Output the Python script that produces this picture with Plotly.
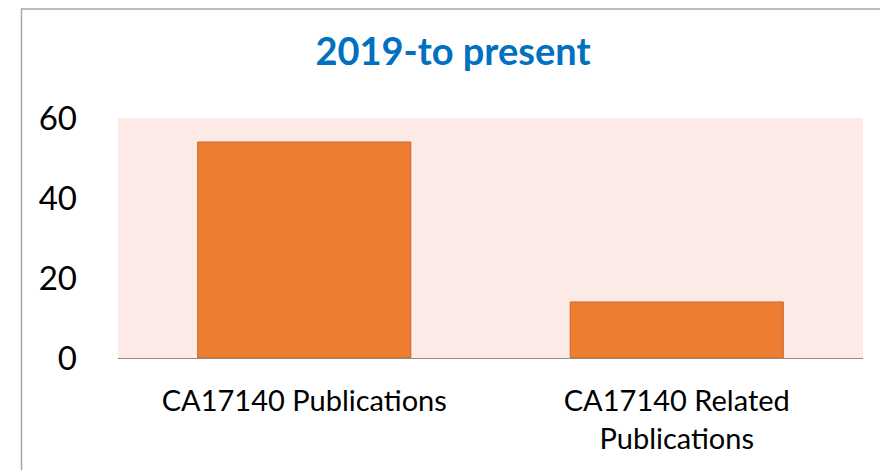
import plotly.graph_objects as go

categories = ["CA17140 Publications", "CA17140 Related Publications"]
tick_labels = ["CA17140 Publications", "CA17140 Related<br>Publications"]
values = [54, 14]
y_ticks = [0, 20, 40, 60]

# page body has an 8px margin; work in reference pixel coords minus that offset
OFF = 8
W, H = 888 - OFF, 470 - OFF
L, T = 118 - OFF, 118 - OFF
R = W - (863 - OFF)
B = H - (358 - OFF)
pw, ph = W - L - R, H - T - B

def px_to_paper_x(px):
    return (px - OFF - L) / pw

def px_to_paper_y(py):
    return (H - B - (py - OFF)) / ph

fig = go.Figure()
fig.add_trace(go.Bar(
    x=categories, y=values,
    marker=dict(color="#ED7D31", line=dict(color="#C9652A", width=1)),
    hoverinfo="x+y",
))

fig.update_layout(
    width=W, height=H,
    margin=dict(l=L, r=R, t=T, b=B, pad=0),
    paper_bgcolor="white",
    plot_bgcolor="#FBEAE5",
    bargap=0.428,
    showlegend=False,
    font=dict(family="Lato, 'Open Sans', sans-serif", color="black"),
    title=dict(
        text="<b>2019-to present</b>",
        font=dict(size=38, color="#0070C0", family="Lato, sans-serif"),
        x=(453 - OFF) / W, xanchor="center", xref="container",
        y=1 - (52 - OFF) / H, yanchor="middle", yref="container",
    ),
    xaxis=dict(
        tickmode="array", tickvals=categories, ticktext=tick_labels,
        tickfont=dict(size=29, color="black"),
        showline=True, linecolor="#8C8C8C", linewidth=1,
        showgrid=False, ticks="",
        ticklabelstandoff=17,
    ),
    yaxis=dict(
        range=[0, 60], tickvals=y_ticks,
        tickfont=dict(size=33, color="black"),
        showgrid=False, zeroline=False, showline=False, ticks="",
        ticklabelstandoff=40,
    ),
    shapes=[dict(
        type="rect", xref="paper", yref="paper",
        x0=px_to_paper_x(21.5), x1=px_to_paper_x(905),
        y0=px_to_paper_y(490), y1=px_to_paper_y(9),
        line=dict(color="#A6A6A6", width=1.5), fillcolor="rgba(0,0,0,0)",
        layer="below",
    )],
)

fig.write_html("out.html")
